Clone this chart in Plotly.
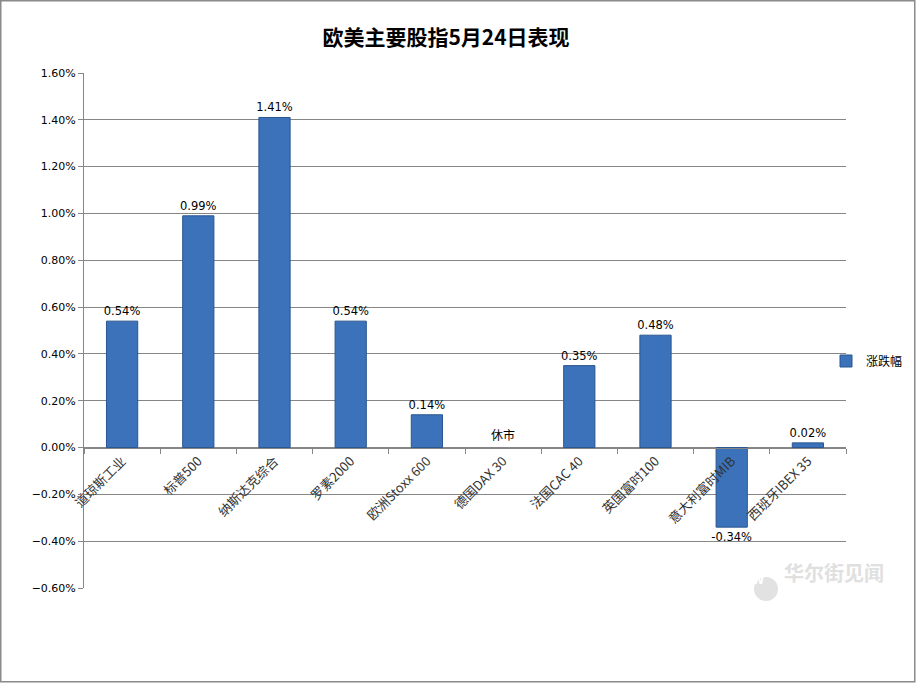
import plotly.graph_objects as go

categories = ["道琼斯工业", "标普500", "纳斯达克综合", "罗素2000", "欧洲Stoxx 600",
              "德国DAX 30", "法国CAC 40", "英国富时100", "意大利富时MIB", "西班牙IBEX 35"]
values_pct = [0.54, 0.99, 1.41, 0.54, 0.14, None, 0.35, 0.48, -0.34, 0.02]
closed_label = "休市"
closed_index = 5
series_name = "涨跌幅"
title_text = "欧美主要股指5月24日表现"
watermark_text = "华尔街见闻"

values = [v / 100 if v is not None else None for v in values_pct]

W, H = 916, 683
ml, mr, mt, mb = 84, 70, 73, 95
pw, ph = W - ml - mr, H - mt - mb
ymin, ymax = -0.006, 0.016

fig = go.Figure()
fig.add_trace(go.Bar(
    x=categories, y=values, name=series_name,
    marker=dict(color="#3b72ba", line=dict(color="#2a568f", width=1)),
    texttemplate="%{y:.2%}", textposition="outside", constraintext="none",
    textfont=dict(family="DejaVu Sans", size=11.5, color="#000000"),
    cliponaxis=False,
))

grid = "#868686"
fig.update_layout(
    width=W, height=H,
    margin=dict(l=ml, r=mr, t=mt, b=mb, autoexpand=False),
    paper_bgcolor="white", plot_bgcolor="white",
    bargap=0.59,
    showlegend=True,
    legend=dict(x=(846 - 20 - ml) / pw, y=(588 - 361) / ph, xanchor="left", yanchor="middle",
                font=dict(family="Noto Sans CJK SC", size=12, color="#000"),
                bgcolor="rgba(0,0,0,0)", itemwidth=30),
    title=dict(text="<b>" + title_text + "</b>", x=446 / W, xref="container", xanchor="center",
               y=1 - 38 / H, yref="container", yanchor="middle",
               font=dict(family="Noto Sans CJK SC", size=21, color="#000")),
    xaxis=dict(
        type="category", anchor="free", position=(0 - ymin) / (ymax - ymin),
        showline=True, linecolor=grid, linewidth=1,
        ticks="outside", tickson="boundaries", ticklen=5, tickcolor=grid,
        tickangle=-45, showgrid=False,
        tickfont=dict(family="Noto Sans CJK SC", size=13, color="#333"),
    ),
    yaxis=dict(
        range=[ymin, ymax], dtick=0.002, tick0=0, tickformat=".2%",
        showline=True, linecolor=grid, linewidth=1,
        ticks="outside", ticklen=5, tickcolor=grid,
        showgrid=True, gridcolor=grid, gridwidth=1, zeroline=False,
        tickfont=dict(family="DejaVu Sans", size=11, color="#000"),
    ),
)

# closed-market label
fig.add_annotation(x=categories[closed_index], y=0, text=closed_label, showarrow=False,
                   yanchor="bottom", yshift=3,
                   font=dict(family="Noto Sans CJK SC", size=12, color="#000"))

# watermark
fig.add_shape(type="circle", xref="paper", yref="paper",
              x0=(754 - ml) / pw, x1=(778 - ml) / pw,
              y0=(588 - 601) / ph, y1=(588 - 577) / ph,
              fillcolor="#e2e2e2", line=dict(width=0), layer="above")
fig.add_annotation(xref="paper", yref="paper", x=(766 - ml) / pw, y=(588 - 589) / ph,
                   text="<b>W</b>", showarrow=False,
                   font=dict(family="DejaVu Sans", size=11, color="white"))
fig.add_annotation(xref="paper", yref="paper", x=(782 - ml) / pw, y=(588 - 589) / ph,
                   text="<b>" + watermark_text + "</b>", showarrow=False, xanchor="left",
                   font=dict(family="Noto Sans CJK SC", size=20, color="#e0e0e0"))

# outer border
fig.add_shape(type="rect", xref="paper", yref="paper",
              x0=(0.75 - ml) / pw, x1=(W - 1.25 - ml) / pw,
              y0=-(mb - 1.25) / ph, y1=1 + (mt - 0.75) / ph,
              line=dict(color="#8a8a8a", width=1.5), fillcolor="rgba(0,0,0,0)")

fig.write_html("out.html")
